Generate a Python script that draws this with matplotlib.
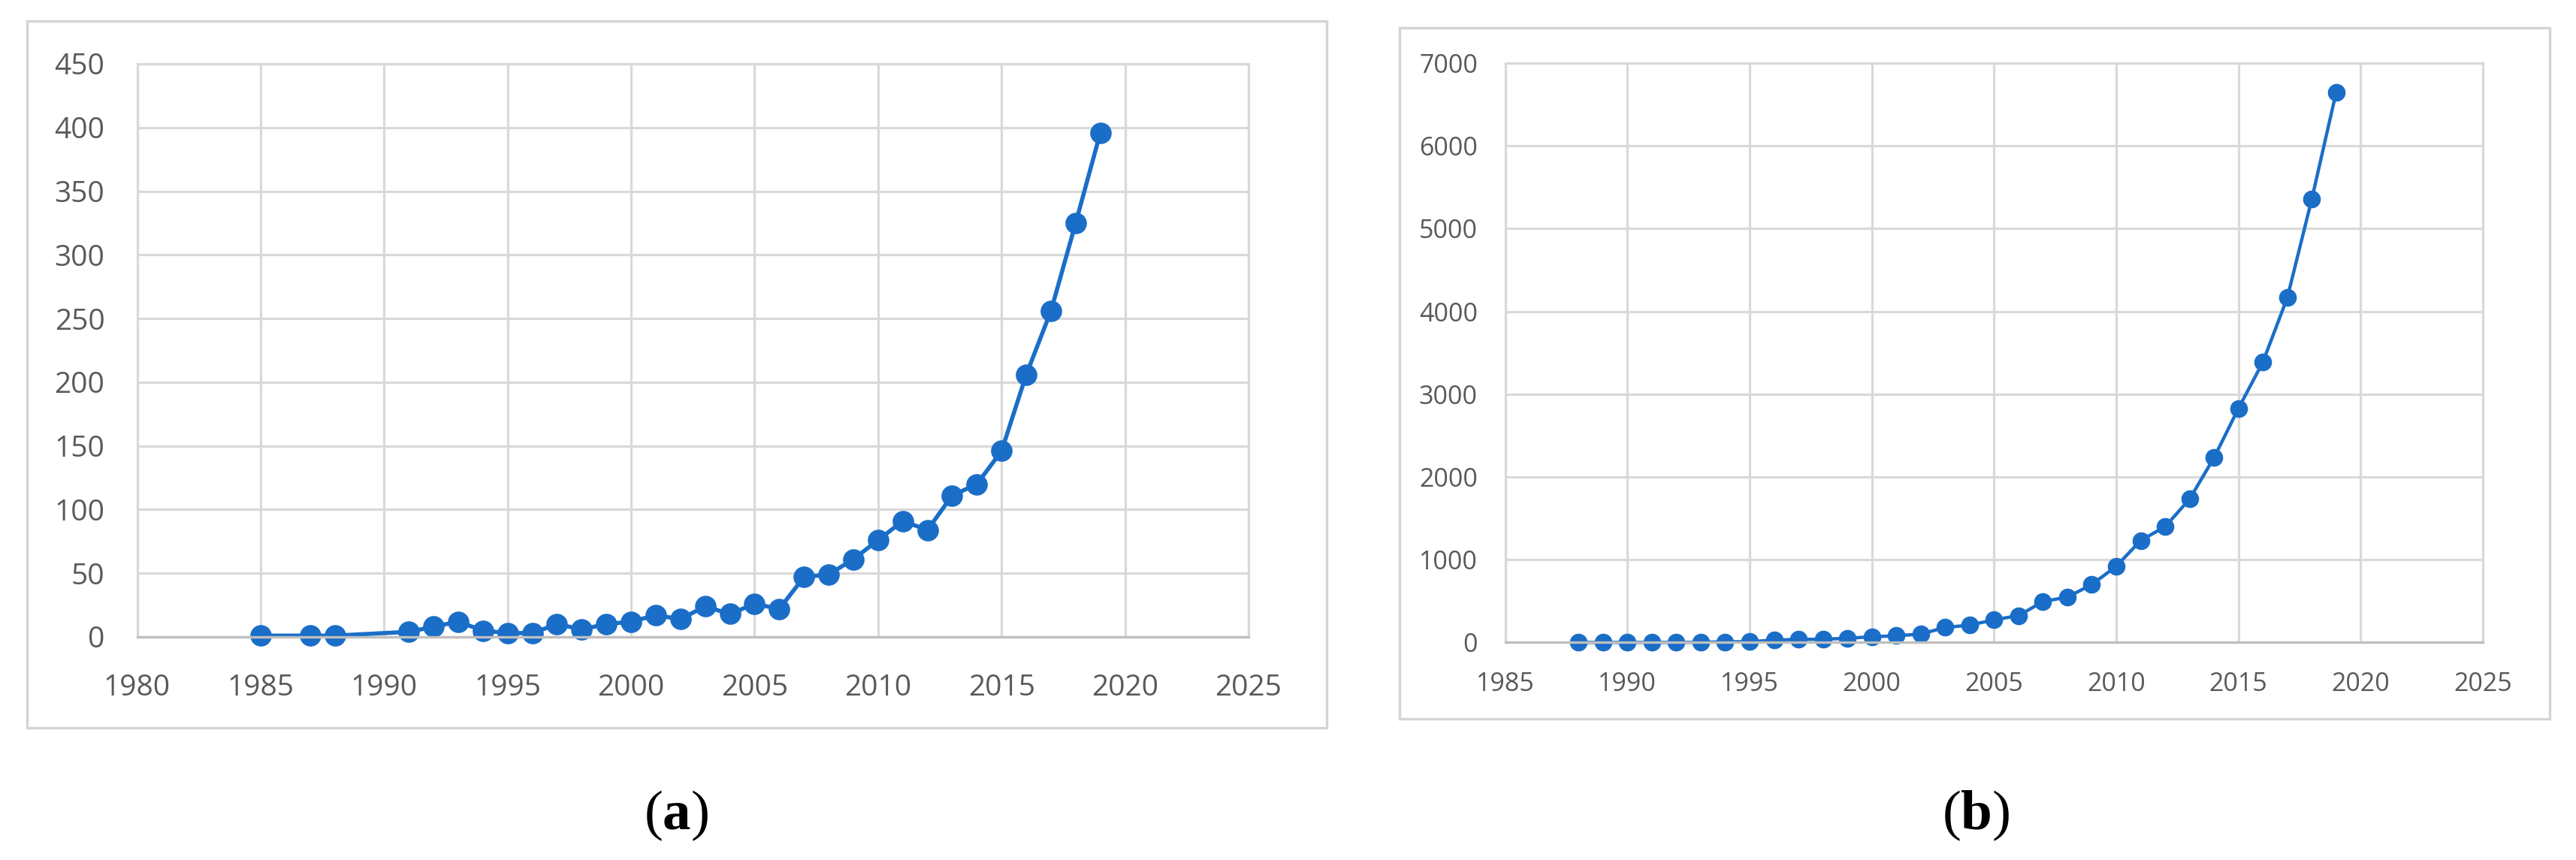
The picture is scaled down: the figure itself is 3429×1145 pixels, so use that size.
import matplotlib
matplotlib.use('Agg')
import matplotlib.pyplot as plt
from matplotlib.patches import Rectangle

# data
years_a = [1985, 1987, 1988, 1991, 1992, 1993, 1994, 1995, 1996, 1997, 1998, 1999, 2000,
           2001, 2002, 2003, 2004, 2005, 2006, 2007, 2008, 2009, 2010, 2011, 2012, 2013,
           2014, 2015, 2016, 2017, 2018, 2019]
count_a = [1, 1, 1, 4, 8, 12, 5, 3, 3, 10, 6, 10, 12, 17, 14, 24, 18, 26, 22, 47, 49, 61,
           76, 91, 84, 111, 120, 146, 206, 256, 325, 396]

years_b = [1988, 1989, 1990, 1991, 1992, 1993, 1994, 1995, 1996, 1997, 1998, 1999, 2000,
           2001, 2002, 2003, 2004, 2005, 2006, 2007, 2008, 2009, 2010, 2011, 2012, 2013,
           2014, 2015, 2016, 2017, 2018, 2019]
count_b = [2, 2, 2, 2, 2, 3, 9, 10, 30, 38, 40, 52, 70, 82, 102, 183, 210, 275, 325, 495,
           550, 700, 922, 1233, 1400, 1733, 2233, 2828, 3389, 4167, 5356, 6650]

xticks_a = [1980, 1985, 1990, 1995, 2000, 2005, 2010, 2015, 2020, 2025]
yticks_a = [0, 50, 100, 150, 200, 250, 300, 350, 400, 450]
xticks_b = [1985, 1990, 1995, 2000, 2005, 2010, 2015, 2020, 2025]
yticks_b = [0, 1000, 2000, 3000, 4000, 5000, 6000, 7000]

blue = '#1a6ec8'
grid_c = '#d9d9d9'
text_c = '#595959'

plt.rcParams['font.family'] = ['Open Sans', 'DejaVu Sans']
plt.rcParams['mathtext.fontset'] = 'custom'
plt.rcParams['mathtext.rm'] = 'Liberation Serif'
plt.rcParams['mathtext.bf'] = 'Liberation Serif:bold'

fig = plt.figure(figsize=(34.3, 11.45), dpi=100)

# outer chart frames (Excel style)
fig.patches.append(Rectangle((0.0105, 0.1537), 0.5044, 0.8218, transform=fig.transFigure,
                             fill=False, edgecolor='#d4d4d4', linewidth=2.4, zorder=0))
fig.patches.append(Rectangle((0.5431, 0.1642), 0.4464, 0.8035, transform=fig.transFigure,
                             fill=False, edgecolor='#d4d4d4', linewidth=2.4, zorder=0))


def style_axes(ax, xt, yt, fs, xpad, ypad):
    ax.set_xticks(xt)
    ax.set_yticks(yt)
    ax.set_xlim(xt[0], xt[-1])
    ax.set_ylim(yt[0], yt[-1])
    ax.grid(True, color=grid_c, linewidth=2.3)
    ax.set_axisbelow(True)
    for s in ['top', 'right', 'left']:
        ax.spines[s].set_color(grid_c)
        ax.spines[s].set_linewidth(2.3)
    ax.spines['bottom'].set_color('#bfbfbf')
    ax.spines['bottom'].set_linewidth(2.4)
    ax.tick_params(axis='both', length=0, labelsize=fs, colors=text_c)
    ax.tick_params(axis='x', pad=xpad)
    ax.tick_params(axis='y', pad=ypad)


# (a)
ax1 = fig.add_axes([0.05321, 0.25939, 0.43134, 0.66638])
ax1.plot(years_a, count_a, color=blue, linewidth=4.0, marker='o', markersize=19.6,
         markerfacecolor=blue, markeredgecolor=blue, clip_on=False)
style_axes(ax1, xticks_a, yticks_a, 28, 35, 31)

# (b)
ax2 = fig.add_axes([0.58417, 0.25284, 0.37939, 0.67380])
ax2.plot(years_b, count_b, color=blue, linewidth=3.2, marker='o', markersize=16,
         markerfacecolor=blue, markeredgecolor=blue, clip_on=False)
style_axes(ax2, xticks_b, yticks_b, 24.5, 28, 26.5)

fig.text(0.2624, 0.0524, r'$(\mathbf{a})$', fontsize=54, ha='center', va='center')
fig.text(0.7668, 0.0524, r'$(\mathbf{b})$', fontsize=54, ha='center', va='center')

fig.savefig('out.png', dpi=100, facecolor='white')
